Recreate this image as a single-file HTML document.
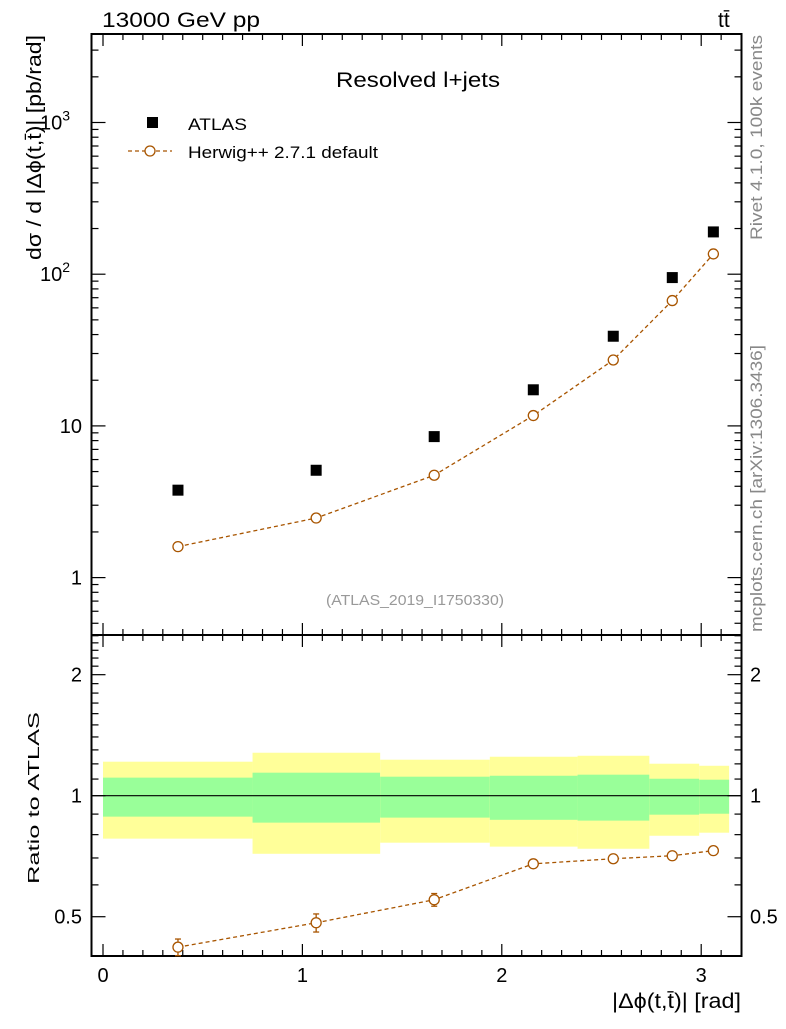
<!DOCTYPE html>
<html><head><meta charset="utf-8"><style>
body{margin:0;background:#fff;width:786px;height:1024px;overflow:hidden}
svg{font-family:"Liberation Sans",sans-serif}
</style></head><body>
<svg id="c" width="786" height="1024" viewBox="0 0 786 1024">
<text x="102" y="27" font-size="21" textLength="158" lengthAdjust="spacingAndGlyphs">13000 GeV pp</text>
<text x="718" y="27" font-size="21">tt̄</text>
<text x="336" y="87" font-size="21" textLength="164" lengthAdjust="spacingAndGlyphs">Resolved l+jets</text>
<text x="326" y="605" font-size="15" fill="#999" textLength="178" lengthAdjust="spacingAndGlyphs">(ATLAS_2019_I1750330)</text>
<text transform="translate(762,240) rotate(-90)" font-size="17" fill="#888" textLength="205" lengthAdjust="spacingAndGlyphs">Rivet 4.1.0,  100k events</text>
<text transform="translate(762,632) rotate(-90)" font-size="17" fill="#888" textLength="287" lengthAdjust="spacingAndGlyphs">mcplots.cern.ch [arXiv:1306.3436]</text>
<text transform="translate(41,260) rotate(-90)" font-size="20" textLength="225" lengthAdjust="spacingAndGlyphs">dσ / d |Δϕ(t,t̄)| [pb/rad]</text>
<text transform="translate(39,884) rotate(-90)" font-size="16" textLength="172" lengthAdjust="spacingAndGlyphs">Ratio to ATLAS</text>
<text x="612" y="1008" font-size="21" textLength="129" lengthAdjust="spacingAndGlyphs">|Δϕ(t,t̄)| [rad]</text>
<rect x="147" y="117" width="11" height="11" fill="#000"/>
<text x="188" y="130" font-size="17" textLength="59" lengthAdjust="spacingAndGlyphs">ATLAS</text>
<line x1="128" y1="151" x2="172" y2="151" stroke="#a85500" stroke-dasharray="4,3" stroke-width="1.3"/>
<circle cx="150" cy="151" r="5" fill="#fff" stroke="#a85500" stroke-width="1.3"/>
<text x="188" y="158" font-size="17" textLength="190" lengthAdjust="spacingAndGlyphs">Herwig++ 2.7.1 default</text>
<g id="g"></g>
</svg>
<script>
const binEdges=[0,0.75,1.39,1.94,2.38,2.74,2.99,3.14];
const xCenters=[0.376,1.069,1.661,2.158,2.559,2.855,3.061];
const atlasVals=[3.77,5.1,8.5,17.3,39,95,190];
const mcVals=[1.6,2.47,4.73,11.7,27.2,67,136];
const ratioVals=[0.42,0.483,0.551,0.677,0.697,0.709,0.73];
const ratioErr=[0.02,0.025,0.02,0.008,0.006,0.005,0.005];
const yellowLo=[0.782,0.717,0.764,0.747,0.738,0.795,0.809];
const yellowHi=[1.215,1.279,1.229,1.25,1.257,1.201,1.187];
const greenLo=[0.887,0.857,0.882,0.871,0.867,0.897,0.902];
const greenHi=[1.109,1.141,1.115,1.121,1.128,1.102,1.096];
const xTicks=[0,1,2,3];
const mainTicks=[1,10,100,1000];
const ratioTicks=[0.5,1,2];

const L=91.5,R=741.5,T=34,M=635,B=956;
const X=v=>103+v*199.4;
const Ym=v=>122.5-(Math.log10(v)-3)*151.7;
const Yr=v=>795.7-Math.log10(v)*402;
const g=document.getElementById('g');
const NS='http://www.w3.org/2000/svg';
function mk(t,a,p){const e=document.createElementNS(NS,t);for(const k in a)e.setAttribute(k,a[k]);(p||g).appendChild(e);return e;}

for(let i=0;i<binEdges.length-1;i++){
 let e=mk('rect',{x:X(binEdges[i]),y:Yr(yellowHi[i]),width:X(binEdges[i+1])-X(binEdges[i]),height:Yr(yellowLo[i])-Yr(yellowHi[i]),fill:'#ffff99'});
 
 
 e=mk('rect',{x:X(binEdges[i]),y:Yr(greenHi[i]),width:X(binEdges[i+1])-X(binEdges[i]),height:Yr(greenLo[i])-Yr(greenHi[i]),fill:'#99ff99'});
 
 
}
let ul=mk('line',{x1:L,x2:R,y1:Yr(1),y2:Yr(1),stroke:'#000','stroke-width':1.2});



for(const [y1,y2] of [[T,M],[M,B]]){
 const f=mk('rect',{x:L,y:y1,width:R-L,height:y2-y1,fill:'none',stroke:'#000','stroke-width':2});
 
 
}
for(let k=0;k<=31;k++){
 const v=k/10,x=X(v),len=(k%10==0)?12:6;
 for(const [y,d] of [[T,1],[M,-1],[M,1],[B,-1]]) mk('line',{x1:x,x2:x,y1:y,y2:y+d*len,stroke:'#000','stroke-width':1.2});
}
xTicks.forEach(v=>{const t=mk('text',{x:X(v),y:982,'font-size':20,'text-anchor':'middle'});t.textContent=v;
 });
for(let d=-1;d<=3;d++)for(let m=1;m<=9;m++){
 const v=m*Math.pow(10,d),y=Ym(v);if(y<T||y>M)continue;const len=m==1?14:7;
 mk('line',{x1:L,x2:L+len,y1:y,y2:y,stroke:'#000','stroke-width':1.2});
 mk('line',{x1:R,x2:R-len,y1:y,y2:y,stroke:'#000','stroke-width':1.2});
}
const labs=[["1",""],["10",""],["10","2"],["10","3"]];
mainTicks.forEach((v,i)=>{const t=mk('text',{x:82,y:Ym(v)+7,'font-size':20,'text-anchor':'end'});
 
 if(labs[i][1]){t.setAttribute('x',70);t.textContent=labs[i][0];const s=mk('tspan',{dy:-9,'font-size':14},t);s.textContent=labs[i][1];}
 else t.textContent=labs[i][0];});
for(let k=4;k<=25;k++){
 const v=k/10,y=Yr(v);if(y<M||y>B)continue;const major=ratioTicks.includes(v);const len=major?14:7;
 mk('line',{x1:L,x2:L+len,y1:y,y2:y,stroke:'#000','stroke-width':1.2});
 mk('line',{x1:R,x2:R-len,y1:y,y2:y,stroke:'#000','stroke-width':1.2});
}
ratioTicks.forEach(v=>{for(const [x,a] of [[82,'end'],[750,'start']]){const t=mk('text',{x:x,y:Yr(v)+7,'font-size':20,'text-anchor':a});t.textContent=v;
 }});

const col='#a85500';
let p=mk('polyline',{points:xCenters.map((x,i)=>X(x)+','+Ym(mcVals[i])).join(' '),fill:'none',stroke:col,'stroke-width':1.3,'stroke-dasharray':'4,3'});


p=mk('polyline',{points:xCenters.map((x,i)=>X(x)+','+Yr(ratioVals[i])).join(' '),fill:'none',stroke:col,'stroke-width':1.3,'stroke-dasharray':'4,3'});


xCenters.forEach((x,i)=>{
 let r=mk('rect',{x:X(x)-5.5,y:Ym(atlasVals[i])-5.5,width:11,height:11,fill:'#000'});
 
 
 let c=mk('circle',{cx:X(x),cy:Ym(mcVals[i]),r:5,fill:'#fff',stroke:col,'stroke-width':1.3});
 
 
 const y1=Yr(ratioVals[i]+ratioErr[i]),y2=Yr(ratioVals[i]-ratioErr[i]);
 mk('line',{x1:X(x),x2:X(x),y1:y1,y2:y2,stroke:col,'stroke-width':1.3});
 mk('line',{x1:X(x)-3,x2:X(x)+3,y1:y1,y2:y1,stroke:col,'stroke-width':1.3});
 mk('line',{x1:X(x)-3,x2:X(x)+3,y1:y2,y2:y2,stroke:col,'stroke-width':1.3});
 c=mk('circle',{cx:X(x),cy:Yr(ratioVals[i]),r:5,fill:'#fff',stroke:col,'stroke-width':1.3});
 
 
});
</script>
</body></html>
